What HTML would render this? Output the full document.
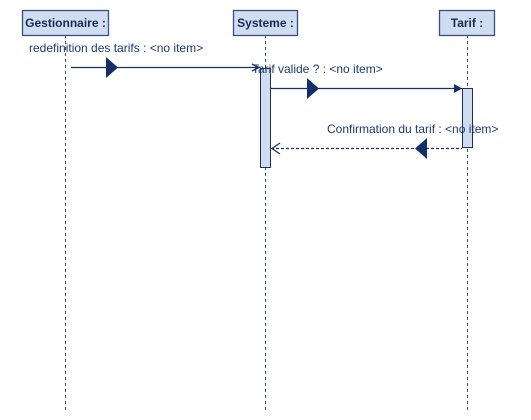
<!DOCTYPE html>
<html><head><meta charset="utf-8"><style>
html,body{margin:0;padding:0;background:#fff;}
svg{display:block;}
text{font-family:"Liberation Sans",Arial,sans-serif;}
</style></head><body>
<svg width="531" height="420" viewBox="0 0 531 420" xmlns="http://www.w3.org/2000/svg">
<g stroke="#3a4f7a" stroke-width="1" stroke-dasharray="3,3" fill="none">
<line x1="65.5" y1="35" x2="65.5" y2="410"/>
<line x1="265.5" y1="35" x2="265.5" y2="410"/>
<line x1="467.5" y1="35" x2="467.5" y2="410"/>
</g>
<g fill="#d0dcf0" stroke="#3a5080" stroke-width="1.3">
<rect x="22.5" y="10.5" width="86" height="25"/>
<rect x="233.5" y="10.5" width="64" height="25"/>
<rect x="439.5" y="10.5" width="55" height="25"/>
</g>
<g font-size="12" font-weight="bold" fill="#1c2a55" text-anchor="middle">
<text x="65.5" y="27">Gestionnaire :</text>
<text x="265.5" y="27">Systeme :</text>
<text x="467" y="27">Tarif :</text>
</g>
<rect x="260.5" y="68.5" width="10" height="99" fill="#d0dcf0" stroke="#1c3060"/>
<rect x="462.5" y="88.5" width="10" height="59" fill="#d0dcf0" stroke="#1c3060"/>
<g stroke="#1c3060" stroke-width="1.3" fill="none">
<line x1="71" y1="67.5" x2="260" y2="67.5"/>
<polyline points="252,64 259,67.5 252,71"/>
<line x1="271" y1="88.5" x2="462" y2="88.5"/>
<line x1="271" y1="148.5" x2="462" y2="148.5" stroke-dasharray="3,2"/>
<polyline points="280,143 272,148.5 280,154"/>
</g>
<g fill="#142e66">
<polygon points="106,57 118,67.5 106,78"/>
<polygon points="307,78 319,88.5 307,99"/>
<polygon points="454,84 462,88.5 454,93"/>
<polygon points="427,138 415,148.5 427,159"/>
</g>
<g font-size="12" fill="#1c3a70">
<text x="29" y="52">redefinition des tarifs : &lt;no item&gt;</text>
<text x="252" y="73">Tarif valide ? : &lt;no item&gt;</text>
<text x="327" y="133">Confirmation du tarif : &lt;no item&gt;</text>
</g>
</svg>
</body></html>
